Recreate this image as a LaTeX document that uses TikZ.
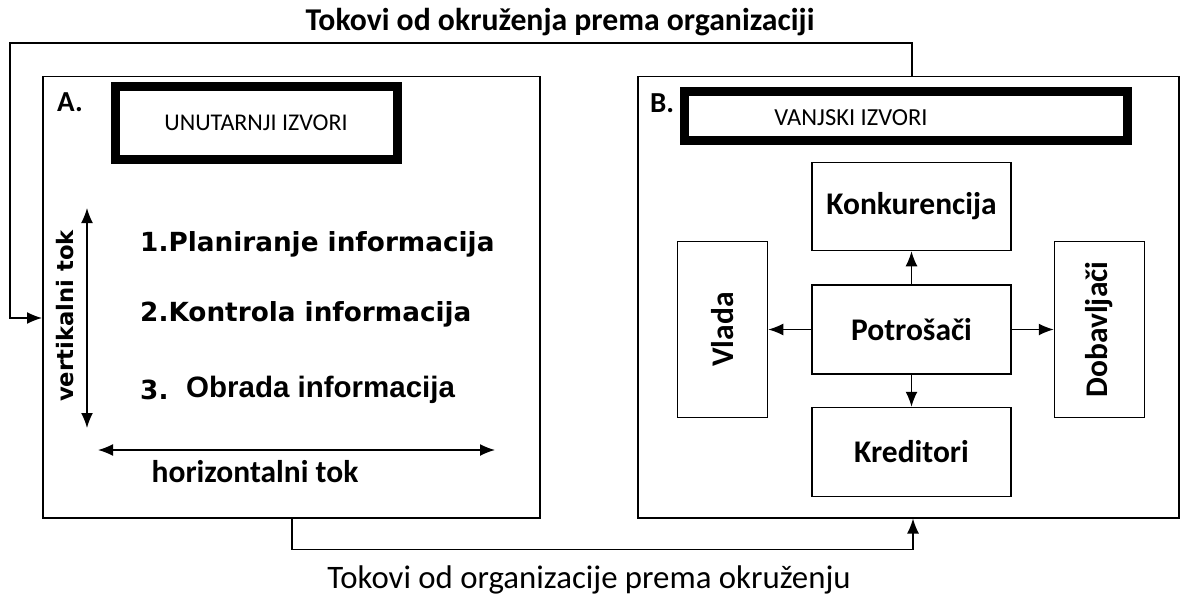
\documentclass[tikz,border=0pt]{standalone}
\usepackage{fontspec}
\setmainfont{Carlito}
\newfontfamily\listfont{DejaVu Sans}
\newfontfamily\arialfont{Liberation Sans}
\usetikzlibrary{arrows.meta,positioning}
\tikzset{
  flow/.style={line width=1.5pt,>={Latex[length=15pt,width=12pt]}},
  orgbox/.style={draw,line width=1.5pt,anchor=north west,minimum width=#1,minimum height=441pt},
  srcbox/.style={draw,line width=9pt,inner sep=0pt},
  partbox/.style={draw,line width=1.5pt,font=\fontsize{31.5}{36}\selectfont\bfseries,inner sep=0pt},
  listitem/.style={anchor=west,inner sep=0pt,font=\listfont\fontsize{26.3}{30}\selectfont\bfseries}
}
\begin{document}
\begin{tikzpicture}[x=1pt,y=-1pt]
\useasboundingbox (0,0) rectangle (1183,599);
\node[orgbox=497pt] (orgA) at (42,76) {};
\node[orgbox=541pt] (orgB) at (637,76) {};
\node[font=\fontsize{31.7}{36}\selectfont\bfseries] (titleIn) at (560,22) {Tokovi od okruženja prema organizaciji};
\node[font=\fontsize{32.8}{37}\selectfont] (titleOut) at (589,580) {Tokovi od organizacije prema okruženju};
% A. internal sources
\node[font=\fontsize{29}{33}\selectfont\bfseries] (labA) at (70,102) {A.};
\node[srcbox,minimum width=282pt,minimum height=72pt,font=\fontsize{24}{28}\selectfont] (intSrc) at (256,123) {UNUTARNJI IZVORI};
\node[listitem] (plan) at (140,244) {1.Planiranje informacija};
\node[listitem] (ctrl) at (140,314) {2.Kontrola informacija};
\node[listitem] (proc) at (140,390) {3.};
\node[anchor=west,inner sep=0pt,font=\arialfont\fontsize{29.5}{34}\selectfont\bfseries] (procTxt) at (186,390) {Obrada informacija};
\coordinate (vTop) at (87,208);
\coordinate (vBot) at (87,428);
\draw[flow,<->] (vTop) -- (vBot);
\node[rotate=90,font=\listfont\fontsize{22.7}{26}\selectfont\bfseries] (vLab) at (65,316) {vertikalni tok};
\coordinate (hLeft) at (98,450);
\coordinate (hRight) at (495,450);
\draw[flow,<->] (hLeft) -- (hRight);
\node[font=\fontsize{31.5}{36}\selectfont\bfseries] (hLab) at (255,472) {horizontalni tok};
% B. external sources
\node[font=\fontsize{29}{33}\selectfont\bfseries] (labB) at (662,103) {B.};
\node[srcbox,minimum width=443pt,minimum height=49pt] (extSrc) at (905.5,116.5) {};
\node[font=\fontsize{24.5}{28}\selectfont] (extTxt) at (851,118) {VANJSKI IZVORI};
\node[partbox,minimum width=199pt,minimum height=89pt] (potr) at (911.5,329.5) {Potrošači};
\node[partbox,minimum width=199pt,minimum height=88pt,above=33pt of potr] (konk) {Konkurencija};
\node[partbox,minimum width=199pt,minimum height=89pt,below=32pt of potr] (kred) {Kreditori};
\node[partbox,minimum width=90pt,minimum height=176pt,left=43pt of potr] (vlada) {\rotatebox{90}{Vlada}};
\node[partbox,minimum width=90pt,minimum height=176pt,right=42pt of potr] (dobav) {\rotatebox{90}{Dobavljači}};
\draw[flow,->] (potr) -- (konk);
\draw[flow,->] (potr) -- (kred);
\draw[flow,->] (potr) -- (vlada);
\draw[flow,->] (potr) -- (dobav);
% flows between environment and organisation
\coordinate (topTurn) at (10,43);
\draw[flow,->] ([xshift=275pt]orgB.north west) |- (topTurn) |- ([yshift=-242pt]orgA.north west);
\draw[flow,->] ([xshift=250pt]orgA.south west) -- ++(0,31) -| ([xshift=276pt]orgB.south west);
\end{tikzpicture}
\end{document}
